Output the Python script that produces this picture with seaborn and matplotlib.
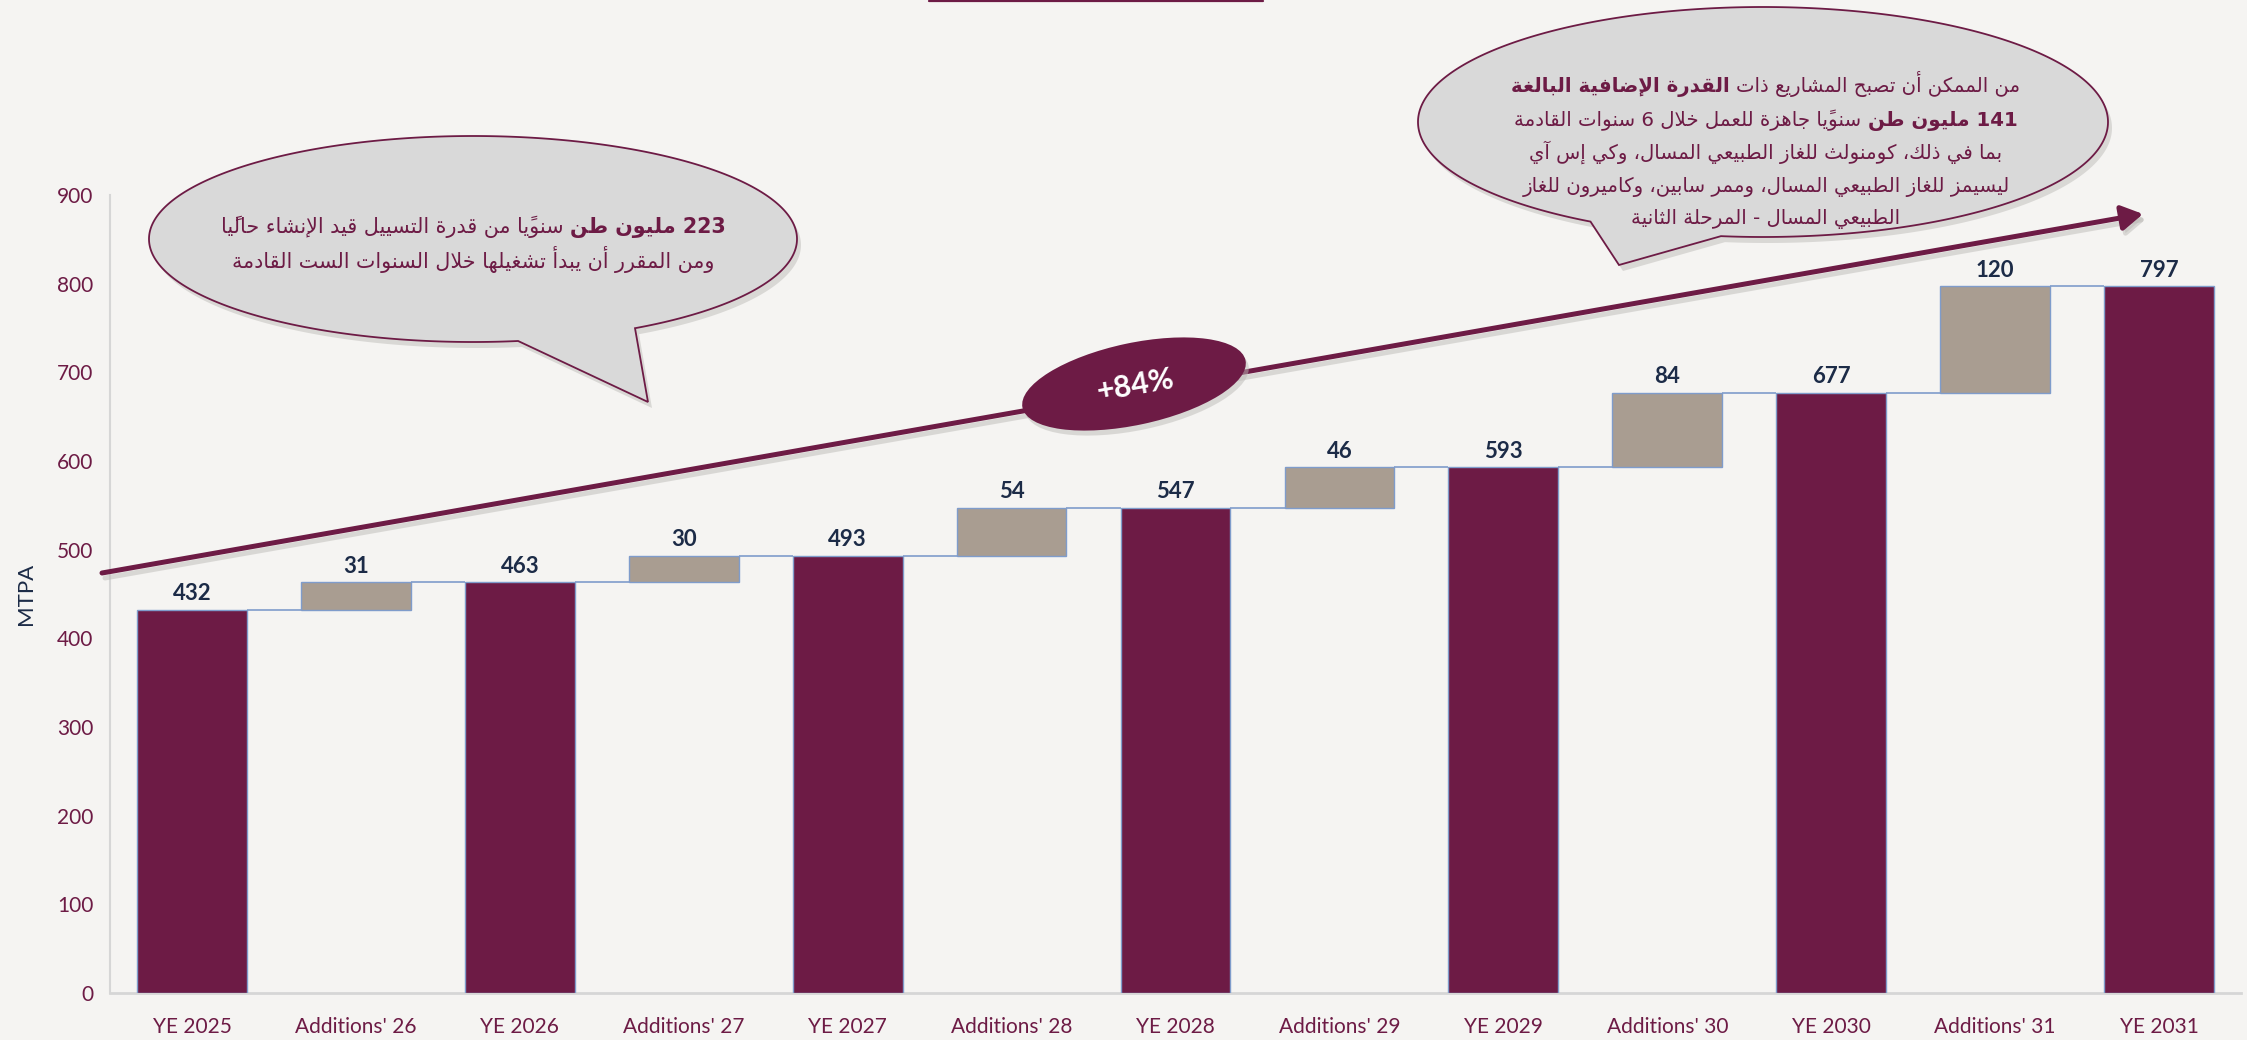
import numpy as np
import pandas as pd
import matplotlib
matplotlib.use("Agg")
import matplotlib.pyplot as plt
import matplotlib.transforms as mtransforms
from matplotlib.patches import Polygon, Ellipse, FancyArrowPatch
from matplotlib.lines import Line2D
import seaborn as sns

# ---------------- data ----------------
categories = ["YE 2025", "Additions' 26", "YE 2026", "Additions' 27", "YE 2027",
              "Additions' 28", "YE 2028", "Additions' 29", "YE 2029",
              "Additions' 30", "YE 2030", "Additions' 31", "YE 2031"]
values = [432, 31, 463, 30, 493, 54, 547, 46, 593, 84, 677, 120, 797]
kinds = ["total", "add", "total", "add", "total", "add", "total",
         "add", "total", "add", "total", "add", "total"]
y_ticks = [0, 100, 200, 300, 400, 500, 600, 700, 800, 900]
y_label = "MTPA"
growth_label = "+84%"

left_bubble_lines = [
    [("223 مليون طن", True), ("سنويًا من قدرة التسييل قيد الإنشاء حاليًا", False)],
    [("ومن المقرر أن يبدأ تشغيلها خلال السنوات الست القادمة", False)],
]
right_bubble_lines = [
    [("من الممكن أن تصبح المشاريع ذات", False), ("القدرة الإضافية البالغة", True)],
    [("141 مليون طن", True), ("سنويًا جاهزة للعمل خلال 6 سنوات القادمة", False)],
    [("بما في ذلك، كومنولث للغاز الطبيعي المسال، وكي إس آي", False)],
    [("ليسيمز للغاز الطبيعي المسال، وممر سابين، وكاميرون للغاز", False)],
    [("الطبيعي المسال - المرحلة الثانية", False)],
]

# ---------------- styles ----------------
MAROON = "#6D1B45"
GRAY_BAR = "#A99D91"
NAVY = "#1C2B47"
BG = "#F5F4F2"
EDGE = "#7F9CCB"
BUBBLE = "#D9D9D9"

DPI = 100
W, H = 2247, 1040

sns.set_theme(style="white")
plt.rcParams["font.family"] = ["Lato", "DejaVu Sans"]

fig = plt.figure(figsize=(W / DPI, H / DPI), dpi=DPI, facecolor=BG)
PX = mtransforms.Affine2D().scale(1 / DPI) + fig.dpi_scale_trans  # pixel coords, y up


def P(x, y):
    return (x, H - y)


# ---------------- Arabic shaping helper ----------------
AR_FORMS = {
    'ء': ('\uFE80', None, None, None),
    'آ': ('\uFE81', '\uFE82', None, None),
    'أ': ('\uFE83', '\uFE84', None, None),
    'ؤ': ('\uFE85', '\uFE86', None, None),
    'إ': ('\uFE87', '\uFE88', None, None),
    'ئ': ('\uFE89', '\uFE8A', '\uFE8B', '\uFE8C'),
    'ا': ('\uFE8D', '\uFE8E', None, None),
    'ب': ('\uFE8F', '\uFE90', '\uFE91', '\uFE92'),
    'ة': ('\uFE93', '\uFE94', None, None),
    'ت': ('\uFE95', '\uFE96', '\uFE97', '\uFE98'),
    'ث': ('\uFE99', '\uFE9A', '\uFE9B', '\uFE9C'),
    'ج': ('\uFE9D', '\uFE9E', '\uFE9F', '\uFEA0'),
    'ح': ('\uFEA1', '\uFEA2', '\uFEA3', '\uFEA4'),
    'خ': ('\uFEA5', '\uFEA6', '\uFEA7', '\uFEA8'),
    'د': ('\uFEA9', '\uFEAA', None, None),
    'ذ': ('\uFEAB', '\uFEAC', None, None),
    'ر': ('\uFEAD', '\uFEAE', None, None),
    'ز': ('\uFEAF', '\uFEB0', None, None),
    'س': ('\uFEB1', '\uFEB2', '\uFEB3', '\uFEB4'),
    'ش': ('\uFEB5', '\uFEB6', '\uFEB7', '\uFEB8'),
    'ص': ('\uFEB9', '\uFEBA', '\uFEBB', '\uFEBC'),
    'ض': ('\uFEBD', '\uFEBE', '\uFEBF', '\uFEC0'),
    'ط': ('\uFEC1', '\uFEC2', '\uFEC3', '\uFEC4'),
    'ظ': ('\uFEC5', '\uFEC6', '\uFEC7', '\uFEC8'),
    'ع': ('\uFEC9', '\uFECA', '\uFECB', '\uFECC'),
    'غ': ('\uFECD', '\uFECE', '\uFECF', '\uFED0'),
    'ف': ('\uFED1', '\uFED2', '\uFED3', '\uFED4'),
    'ق': ('\uFED5', '\uFED6', '\uFED7', '\uFED8'),
    'ك': ('\uFED9', '\uFEDA', '\uFEDB', '\uFEDC'),
    'ل': ('\uFEDD', '\uFEDE', '\uFEDF', '\uFEE0'),
    'م': ('\uFEE1', '\uFEE2', '\uFEE3', '\uFEE4'),
    'ن': ('\uFEE5', '\uFEE6', '\uFEE7', '\uFEE8'),
    'ه': ('\uFEE9', '\uFEEA', '\uFEEB', '\uFEEC'),
    'و': ('\uFEED', '\uFEEE', None, None),
    'ى': ('\uFEEF', '\uFEF0', None, None),
    'ي': ('\uFEF1', '\uFEF2', '\uFEF3', '\uFEF4'),
}
LAM_ALEF = {'ا': ('\uFEFB', '\uFEFC'), 'أ': ('\uFEF7', '\uFEF8'),
            'إ': ('\uFEF9', '\uFEFA'), 'آ': ('\uFEF5', '\uFEF6')}
MARKS = set(chr(c) for c in range(0x064B, 0x0653)) | {'\u0670'}


def shape_ar(text):
    units = []
    chars = list(text)
    i = 0
    while i < len(chars):
        c = chars[i]
        if c in MARKS and units:
            units[-1][1] += c
            i += 1
            continue
        if c == 'ل' and i + 1 < len(chars) and chars[i + 1] in LAM_ALEF:
            units.append(["LA" + chars[i + 1], ""])
            i += 2
            continue
        units.append([c, ""])
        i += 1

    def can_prev(u):
        b = u[0]
        if len(b) == 3:
            return True
        return b in AR_FORMS and AR_FORMS[b][1] is not None

    def can_next(u):
        b = u[0]
        if len(b) == 3:
            return False
        return b in AR_FORMS and AR_FORMS[b][2] is not None

    out = []
    for k, u in enumerate(units):
        b = u[0]
        jp = k > 0 and can_next(units[k - 1]) and can_prev(u)
        jn = k < len(units) - 1 and can_next(u) and can_prev(units[k + 1])
        if len(b) == 3:
            g = LAM_ALEF[b[2]][1 if jp else 0]
        elif b in AR_FORMS:
            f = AR_FORMS[b]
            if jp and jn:
                g = f[3]
            elif jp:
                g = f[1]
            elif jn:
                g = f[2]
            else:
                g = f[0]
        else:
            g = b
        out.append(g + u[1])
    tokens = []
    for g in out:
        if g.isdigit() and tokens and tokens[-1].isdigit():
            tokens[-1] += g
        else:
            tokens.append(g)
    return "".join(reversed(tokens))


# ---------------- axes & bars ----------------
ax = fig.add_axes([110 / W, 1 - 993 / H, (2241 - 110) / W, (993 - 195) / H])
ax.set_facecolor(BG)

bases, tops = [], []
run = 0
for v, k in zip(values, kinds):
    if k == "total":
        bases.append(0)
        run = v
    else:
        bases.append(run)
        run = run + v
    tops.append(run)

df = pd.DataFrame({"category": categories, "value": values, "kind": kinds,
                   "base": bases, "top": tops})
df_tot = df[df["kind"] == "total"]
df_add = df[df["kind"] == "add"]

BAR_W = 0.67
sns.barplot(data=df_tot, x="category", y="value", order=categories, color=MAROON,
            saturation=1, width=BAR_W, edgecolor=EDGE, linewidth=1.0,
            errorbar=None, ax=ax, zorder=3)
sns.barplot(data=df_add, x="category", y="value", order=categories, color=GRAY_BAR,
            saturation=1, width=BAR_W, edgecolor=EDGE, linewidth=1.0,
            bottom=df_add["base"].values, errorbar=None, ax=ax, zorder=3)

# connectors
for i in range(len(categories) - 1):
    ax.hlines(tops[i], i + BAR_W / 2, i + 1 - BAR_W / 2, color=EDGE, lw=1.2, zorder=2)

# value labels
for i, (v, t) in enumerate(zip(values, tops)):
    ax.annotate(f"{v}", (i, t), xytext=(0, 4), textcoords="offset points",
                ha="center", va="bottom", fontsize=16, fontweight="bold",
                color=NAVY, family=["Lato", "DejaVu Sans"], zorder=5)

ax.set_xlim(-0.5, len(categories) - 0.5)
ax.set_ylim(0, 900)
ax.set_yticks(y_ticks)
ax.set_xlabel("")
ax.set_ylabel(y_label, fontsize=16, color=NAVY)
ax.yaxis.set_label_coords(-0.0345, 0.50)
ax.tick_params(axis="y", length=0, pad=12, labelsize=15, labelcolor=MAROON)
ax.tick_params(axis="x", length=0, pad=17, labelsize=15, labelcolor=MAROON)
for s in ["top", "right"]:
    ax.spines[s].set_visible(False)
ax.spines["left"].set_color("#D6D6D6")
ax.spines["left"].set_linewidth(1.5)
ax.spines["bottom"].set_color("#D6D6D6")
ax.spines["bottom"].set_linewidth(2.0)
ax.grid(False)

# ---------------- decorations ----------------
fig.add_artist(Line2D([929, 1263], [H - 1, H - 1], transform=PX, color=MAROON, lw=1.6))

# trend arrow with shadow
start, end = (102, 573), (2143, 214)
shadow = FancyArrowPatch(P(start[0] + 3, start[1] + 5), P(end[0] + 3, end[1] + 5),
                         transform=PX, arrowstyle="-|>,head_length=0.85,head_width=0.5",
                         mutation_scale=15, lw=3.6, color="#BDBBB8", alpha=0.5,
                         shrinkA=0, shrinkB=0, zorder=4)
fig.add_artist(shadow)
arrow = FancyArrowPatch(P(*start), P(*end), transform=PX,
                        arrowstyle="-|>,head_length=0.85,head_width=0.5",
                        mutation_scale=15, lw=3.6, color=MAROON,
                        shrinkA=0, shrinkB=0, zorder=5)
fig.add_artist(arrow)

# +84% ellipse
fig.add_artist(Ellipse(P(1137, 389), 228, 82, angle=12, transform=PX,
                       facecolor="#BDBBB8", edgecolor="none", alpha=0.5, zorder=5))
fig.add_artist(Ellipse(P(1134, 384), 228, 82, angle=12, transform=PX,
                       facecolor=MAROON, edgecolor="none", zorder=6))
fig.text(*P(1135, 385), growth_label, transform=PX, ha="center", va="center",
         rotation=10, fontsize=22, fontweight="bold", color="white",
         family=["Lato", "DejaVu Sans"], zorder=7)


def bubble_pts(cx, cy, a, b, t1, t2, tip, dx=0, dy=0):
    ts = np.radians(np.linspace(t1, t2 + 360, 500))
    xs = cx + a * np.cos(ts) + dx
    ys = cy + b * np.sin(ts) + dy
    pts = [P(x, y) for x, y in zip(xs, ys)] + [P(tip[0] + dx, tip[1] + dy)]
    return pts


for spec in [dict(cx=473, cy=239, a=324, b=103, t1=82, t2=60, tip=(648, 402)),
             dict(cx=1763, cy=122, a=345, b=115, t1=120, t2=97, tip=(1619, 265))]:
    fig.add_artist(Polygon(bubble_pts(**spec, dx=4, dy=6), closed=True, transform=PX,
                           facecolor="#B8B6B3", edgecolor="none", alpha=0.45, zorder=5))
    fig.add_artist(Polygon(bubble_pts(**spec), closed=True, transform=PX,
                           facecolor=BUBBLE, edgecolor=MAROON, lw=1.3, zorder=6))

renderer = fig.canvas.get_renderer()


def layout_rtl(lines, cx, ys, target_w, size0=15):
    rows = []
    for segs in lines:
        row = []
        for s, bold in segs:
            t = fig.text(0, 0, shape_ar(s), transform=PX, fontsize=size0,
                         fontweight="bold" if bold else "normal", color=MAROON,
                         ha="left", va="baseline", family=["DejaVu Sans"], zorder=8)
            row.append(t)
        rows.append(row)

    def widths(size):
        gap = 0.318 * size * DPI / 72
        res = []
        for row in rows:
            ws = [t.get_window_extent(renderer).width for t in row]
            res.append((ws, gap))
        return res

    w0 = widths(size0)
    maxw = max(sum(ws) + gap * (len(ws) - 1) for ws, gap in w0)
    size = size0 * target_w / maxw
    for row in rows:
        for t in row:
            t.set_fontsize(size)
    wl = widths(size)
    fpx = size * DPI / 72
    for row, (ws, gap), y in zip(rows, wl, ys):
        total = sum(ws) + gap * (len(ws) - 1)
        xr = cx + total / 2
        for t, w in zip(row, ws):
            t.set_position(P(xr - w, y + 0.3 * fpx))
            xr -= w + gap


layout_rtl(left_bubble_lines, 473, [227, 262], 505)
layout_rtl(right_bubble_lines, 1766, [86, 120, 153, 186, 218], 508)

fig.savefig("out.png", dpi=DPI, facecolor=BG)
